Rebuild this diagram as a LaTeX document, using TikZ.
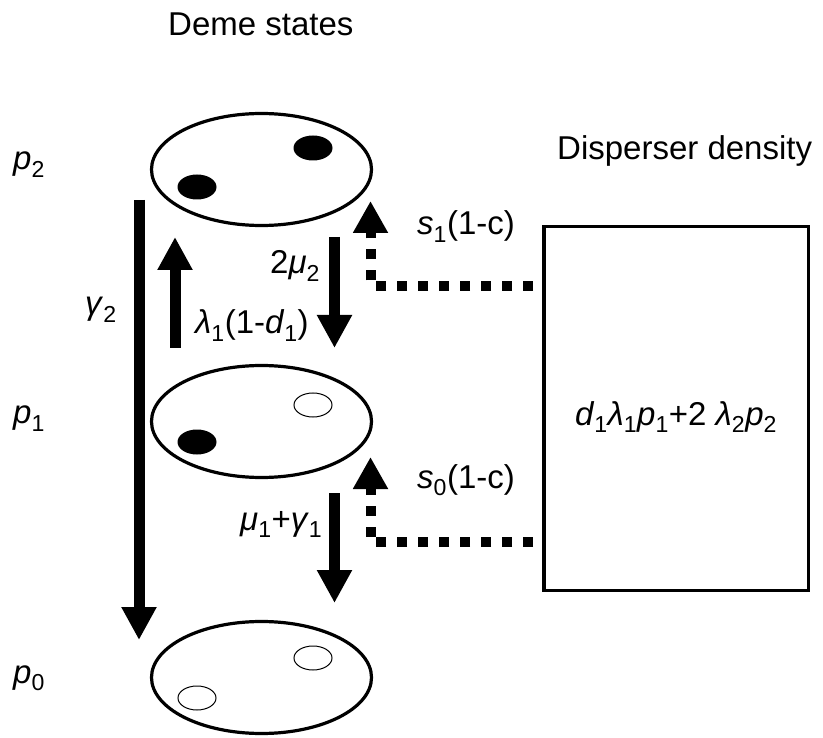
\documentclass[tikz,border=0pt]{standalone}
\usepackage{fontspec}
\setmainfont{Liberation Sans}
\usetikzlibrary{shapes.geometric,arrows.meta}
\def\demenode{\node[ellipse,draw,line width=3.2pt,minimum width=220pt,minimum height=112pt]}
\def\fulldot{\node[ellipse,fill=black,minimum width=39pt,minimum height=25pt]}
\def\emptydot{\node[ellipse,draw,line width=1pt,minimum width=38pt,minimum height=24pt]}
\newcommand{\iv}[1]{\textit{#1}}
\newcommand{\sub}[1]{\textsubscript{#1}}
\begin{document}
\begin{tikzpicture}[x=1pt,y=-1pt,
  every node/.style={inner sep=0pt,font=\fontsize{33}{40}\selectfont},
  flow/.style={line width=11pt,-{Triangle[width=33pt,length=33pt]}},
  inflow/.style={line width=10pt,dash pattern=on 10pt off 11pt,dash phase=12pt,
    -{Triangle[width=33pt,length=32pt]}}]
\useasboundingbox (0,0) rectangle (823,738);
% deme states
\demenode (deme2) at (261.5,169.5) {};
\demenode (deme1) at (261.5,421.5) {};
\demenode (deme0) at (261.5,677.5) {};
\fulldot (d2a) at (313,148) {};
\fulldot (d2b) at (197,187) {};
\emptydot (d1a) at (313,405) {};
\fulldot (d1b) at (197,442) {};
\emptydot (d0a) at (313,658) {};
\emptydot (d0b) at (197,698) {};
\node[anchor=base west] (demetitle) at (168,36) {Deme states};
\node[anchor=base west] (p2) at (13,170) {\iv{p}\sub{2}};
\node[anchor=base west] (p1) at (13,424) {\iv{p}\sub{1}};
\node[anchor=base west] (p0) at (13,683) {\iv{p}\sub{0}};
% disperser pool
\node[draw,line width=3.5pt,minimum width=264.5pt,minimum height=363.5pt] (pool) at (676,408.5) {};
\node[anchor=base] (pooltxt) at (676,425) {\iv{d}\sub{1}\iv{λ}\sub{1}\iv{p}\sub{1}+2 \iv{λ}\sub{2}\iv{p}\sub{2}};
\node[anchor=base west] (pooltitle) at (557,160) {Disperser density};
% transitions
\coordinate (g2top) at (139,200);
\coordinate (g2tip) at (139,640);
\coordinate (lamtail) at (175,348);
\coordinate (lamtip) at (175,237);
\coordinate (mu2tail) at (334.5,237);
\coordinate (mu2tip) at (334.5,348);
\coordinate (mu1tail) at (334.5,493);
\coordinate (mu1tip) at (334.5,603);
\draw[flow] (g2top) -- (g2tip);
\draw[flow] (lamtail) -- (lamtip);
\draw[flow] (mu2tail) -- (mu2tip);
\draw[flow] (mu1tail) -- (mu1tip);
\node[anchor=base west] (gam2) at (85,315) {\iv{γ}\sub{2}};
\node[anchor=base west] (lam1) at (195,334) {\iv{λ}\sub{1}(1-\iv{d}\sub{1})};
\node[anchor=base west] (mu2) at (270,274) {2\iv{μ}\sub{2}};
\node[anchor=base west] (mu1) at (240,530) {\iv{μ}\sub{1}+\iv{γ}\sub{1}};
% colonisation from the pool
\coordinate (s1bend) at (370.5,286);
\coordinate (s1tip) at (370.5,201);
\coordinate (s0bend) at (370.5,542);
\coordinate (s0tip) at (370.5,457);
\draw[inflow] (pool.west |- s1bend) -- (s1bend) -- (s1tip);
\draw[inflow] (pool.west |- s0bend) -- (s0bend) -- (s0tip);
\node[anchor=base west] (s1) at (417,235) {\iv{s}\sub{1}(1-c)};
\node[anchor=base west] (s0) at (417,488) {\iv{s}\sub{0}(1-c)};
\end{tikzpicture}
\end{document}
